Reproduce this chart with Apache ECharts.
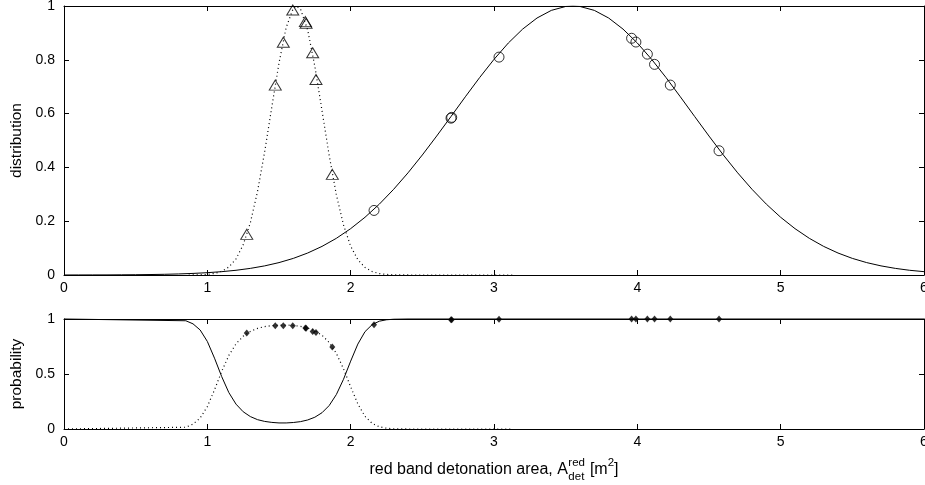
<!DOCTYPE html>
<html>
<head>
<meta charset="utf-8">
<script src="https://cdn.jsdelivr.net/npm/echarts@6/dist/echarts.min.js"></script>
<style>
  html, body { margin: 0; padding: 0; background: #fff; }
  #chart { width: 925px; height: 485px; }
</style>
</head>
<body>
<div id="chart"></div>
<script>
// upper panel: fitted distributions
const distSolidX = [0,0.1,0.2,0.3,0.4,0.5,0.6,0.7,0.8,0.9,1,1.1,1.2,1.3,1.4,1.5,1.6,1.7,1.8,1.9,2,2.1,2.2,2.3,2.4,2.5,2.6,2.7,2.8,2.9,3,3.1,3.2,3.3,3.4,3.5,3.55,3.6,3.7,3.8,3.9,4,4.1,4.2,4.3,4.4,4.5,4.6,4.7,4.8,4.9,5,5.1,5.2,5.3,5.4,5.5,5.6,5.7,5.8,5.9,6];
const distSolidY = [0.0001,0.0002,0.0003,0.0004,0.0007,0.0011,0.0017,0.0026,0.0039,0.0059,0.0086,0.0124,0.0175,0.0246,0.0339,0.0461,0.0618,0.0817,0.1063,0.1363,0.1723,0.2146,0.2634,0.3186,0.3798,0.4462,0.5165,0.5892,0.6625,0.7341,0.8016,0.8624,0.9142,0.9553,0.9837,0.9982,1,0.9982,0.9837,0.9553,0.9142,0.8624,0.8016,0.7341,0.6625,0.5892,0.5165,0.4462,0.3798,0.3186,0.2634,0.2146,0.1723,0.1363,0.1063,0.0817,0.0618,0.0461,0.0339,0.0246,0.0175,0.0124];
const distDotX = [0.87,0.9,0.95,1,1.05,1.1,1.15,1.2,1.25,1.3,1.35,1.4,1.45,1.5,1.55,1.6,1.62,1.65,1.7,1.75,1.8,1.85,1.9,1.95,2,2.05,2.1,2.15,2.2,2.25,2.3,2.4,2.5,3.13];
const distDotY = [0,0.0003,0.0008,0.0022,0.0057,0.0136,0.0297,0.060,0.112,0.194,0.310,0.458,0.625,0.788,0.920,0.992,1,0.989,0.911,0.776,0.611,0.445,0.299,0.186,0.107,0.057,0.028,0.0127,0.0053,0.0021,0.0007,0.0001,0,0];

// measured samples
const triX = [1.275,1.474,1.530,1.596,1.684,1.689,1.735,1.758,1.872];
const triY = [0.151,0.706,0.865,0.985,0.942,0.936,0.826,0.727,0.374];
const circX = [2.163,2.70,2.705,3.035,3.96,3.99,4.07,4.12,4.23,4.57];
const circY = [0.240,0.583,0.586,0.810,0.880,0.866,0.821,0.783,0.706,0.462];

// lower panel: probabilities
const probSolidX = [0,0.85,0.9,0.95,1,1.05,1.1,1.15,1.2,1.25,1.3,1.35,1.4,1.45,1.5,1.55,1.6,1.65,1.7,1.75,1.8,1.85,1.9,1.95,2,2.05,2.1,2.15,2.2,2.25,2.3,2.4,6];
const probSolidY = [1,0.984,0.956,0.90,0.796,0.644,0.477,0.331,0.226,0.157,0.113,0.085,0.069,0.060,0.055,0.055,0.059,0.067,0.082,0.107,0.148,0.213,0.313,0.452,0.617,0.772,0.885,0.949,0.980,0.993,0.998,1,1];
const probDotX = [0,0.85,0.9,0.95,1,1.05,1.1,1.15,1.2,1.25,1.3,1.35,1.4,1.45,1.5,1.55,1.6,1.65,1.7,1.75,1.8,1.85,1.9,1.95,2,2.05,2.1,2.15,2.2,2.25,2.3,2.4,3.13];
const probDotY = [0,0.016,0.044,0.10,0.204,0.356,0.523,0.669,0.774,0.843,0.887,0.915,0.931,0.940,0.945,0.945,0.941,0.933,0.918,0.893,0.852,0.787,0.687,0.548,0.383,0.228,0.115,0.051,0.020,0.007,0.002,0,0];
const triProb = [0.873,0.939,0.939,0.939,0.918,0.915,0.887,0.878,0.745];
const circProb = [0.948,0.994,0.994,0.998,1,1,1,1,1,1];

const xTicks = [0, 1, 2, 3, 4, 5, 6];

const zip = (xs, ys) => xs.map((x, i) => [x, ys[i]]);

const FONT = '"Liberation Sans", Arial, Helvetica, sans-serif';
const black = '#000';

function xAx(grid, pos, labels) {
  return {
    type: 'value', gridIndex: grid, position: pos,
    min: xTicks[0], max: xTicks[xTicks.length - 1], interval: 1,
    axisLine: { show: true, onZero: false, lineStyle: { color: black, width: 1 } },
    axisTick: { show: true, inside: true, length: 5, lineStyle: { color: black } },
    axisLabel: { show: labels, color: black, fontSize: 14, fontFamily: FONT, margin: 6 },
    splitLine: { show: false }
  };
}
function yAx(grid, pos, labels, interval, name) {
  return {
    type: 'value', gridIndex: grid, position: pos,
    min: 0, max: 1, interval: interval,
    name: name || '', nameLocation: 'middle', nameGap: 35,
    nameTextStyle: { color: black, fontSize: 15.5, fontFamily: FONT },
    axisLine: { show: true, onZero: false, lineStyle: { color: black, width: 1 } },
    axisTick: { show: true, inside: true, length: 5, lineStyle: { color: black } },
    axisLabel: { show: labels, color: black, fontSize: 14, fontFamily: FONT, margin: 9 },
    splitLine: { show: false }
  };
}

const hollow = { color: 'rgba(0,0,0,0)', borderColor: black, borderWidth: 1 };

// x-axis title with stacked super/subscript
const ctx = document.createElement('canvas').getContext('2d');
function tw(s, size) { ctx.font = size + 'px ' + FONT; return ctx.measureText(s).width; }
const big = 16, small = 11.5;
const tMain = 'red band detonation area, A', tSup = 'red', tSub = 'det', tM = ' [m', t2 = '2', tB = ']';
const wMain = tw(tMain, big), wSS = Math.max(tw(tSup, small), tw(tSub, small));
const wM = tw(tM, big), w2 = tw(t2, small), wB = tw(tB, big);
const total = wMain + wSS + 1 + wM + w2 + wB;
let x0 = 494 - total / 2;
const yMid = 470;
function txt(s, x, y, size) {
  return { type: 'text', x: x, y: y, silent: true,
    style: { text: s, font: size + 'px ' + FONT, fill: black, textVerticalAlign: 'middle' } };
}
const titleParts = [
  txt(tMain, x0, yMid, big),
  txt(tSup, x0 + wMain + 0.5, yMid - 7, small),
  txt(tSub, x0 + wMain + 0.5, yMid + 7, small),
  txt(tM, x0 + wMain + wSS + 1, yMid, big),
  txt(t2, x0 + wMain + wSS + 1 + wM, yMid - 7, small),
  txt(tB, x0 + wMain + wSS + 1 + wM + w2, yMid, big)
];

const chart = echarts.init(document.getElementById('chart'), null, { renderer: 'canvas' });
chart.setOption({
  animation: false,
  backgroundColor: '#fff',
  grid: [
    { left: 64, right: 1, top: 6, height: 269, outerBoundsMode: 'none', containLabel: false },
    { left: 64, right: 1, top: 319, height: 110, outerBoundsMode: 'none', containLabel: false }
  ],
  xAxis: [xAx(0, 'bottom', true), xAx(0, 'top', false), xAx(1, 'bottom', true), xAx(1, 'top', false)],
  yAxis: [yAx(0, 'left', true, 0.2, 'distribution'), yAx(0, 'right', false, 0.2),
          yAx(1, 'left', true, 0.5, 'probability'), yAx(1, 'right', false, 0.5)],
  graphic: titleParts,
  series: [
    { type: 'line', xAxisIndex: 0, yAxisIndex: 0, data: zip(distSolidX, distSolidY), showSymbol: false,
      lineStyle: { color: black, width: 1 }, z: 2 },
    { type: 'line', xAxisIndex: 0, yAxisIndex: 0, data: zip(distDotX, distDotY), showSymbol: false,
      lineStyle: { color: black, width: 1.2, type: [1, 3] }, z: 2 },
    { type: 'scatter', xAxisIndex: 0, yAxisIndex: 0, data: zip(triX, triY), symbol: 'triangle',
      symbolSize: [12, 10], itemStyle: hollow, z: 3 },
    { type: 'scatter', xAxisIndex: 0, yAxisIndex: 0, data: zip(circX, circY), symbol: 'circle',
      symbolSize: 10, itemStyle: hollow, z: 3 },
    { type: 'line', xAxisIndex: 2, yAxisIndex: 2, data: zip(probSolidX, probSolidY), showSymbol: false,
      lineStyle: { color: black, width: 1 }, clip: false, z: 2 },
    { type: 'line', xAxisIndex: 2, yAxisIndex: 2, data: zip(probDotX, probDotY), showSymbol: false,
      lineStyle: { color: black, width: 1.2, type: [1, 3] }, z: 2 },
    { type: 'scatter', xAxisIndex: 2, yAxisIndex: 2, data: zip(triX, triProb), symbol: 'diamond',
      symbolSize: [6, 7], itemStyle: { color: black }, z: 3 },
    { type: 'scatter', xAxisIndex: 2, yAxisIndex: 2, data: zip(circX, circProb), symbol: 'diamond',
      symbolSize: [6, 7], itemStyle: { color: black }, z: 3 }
  ]
});
</script>
</body>
</html>
